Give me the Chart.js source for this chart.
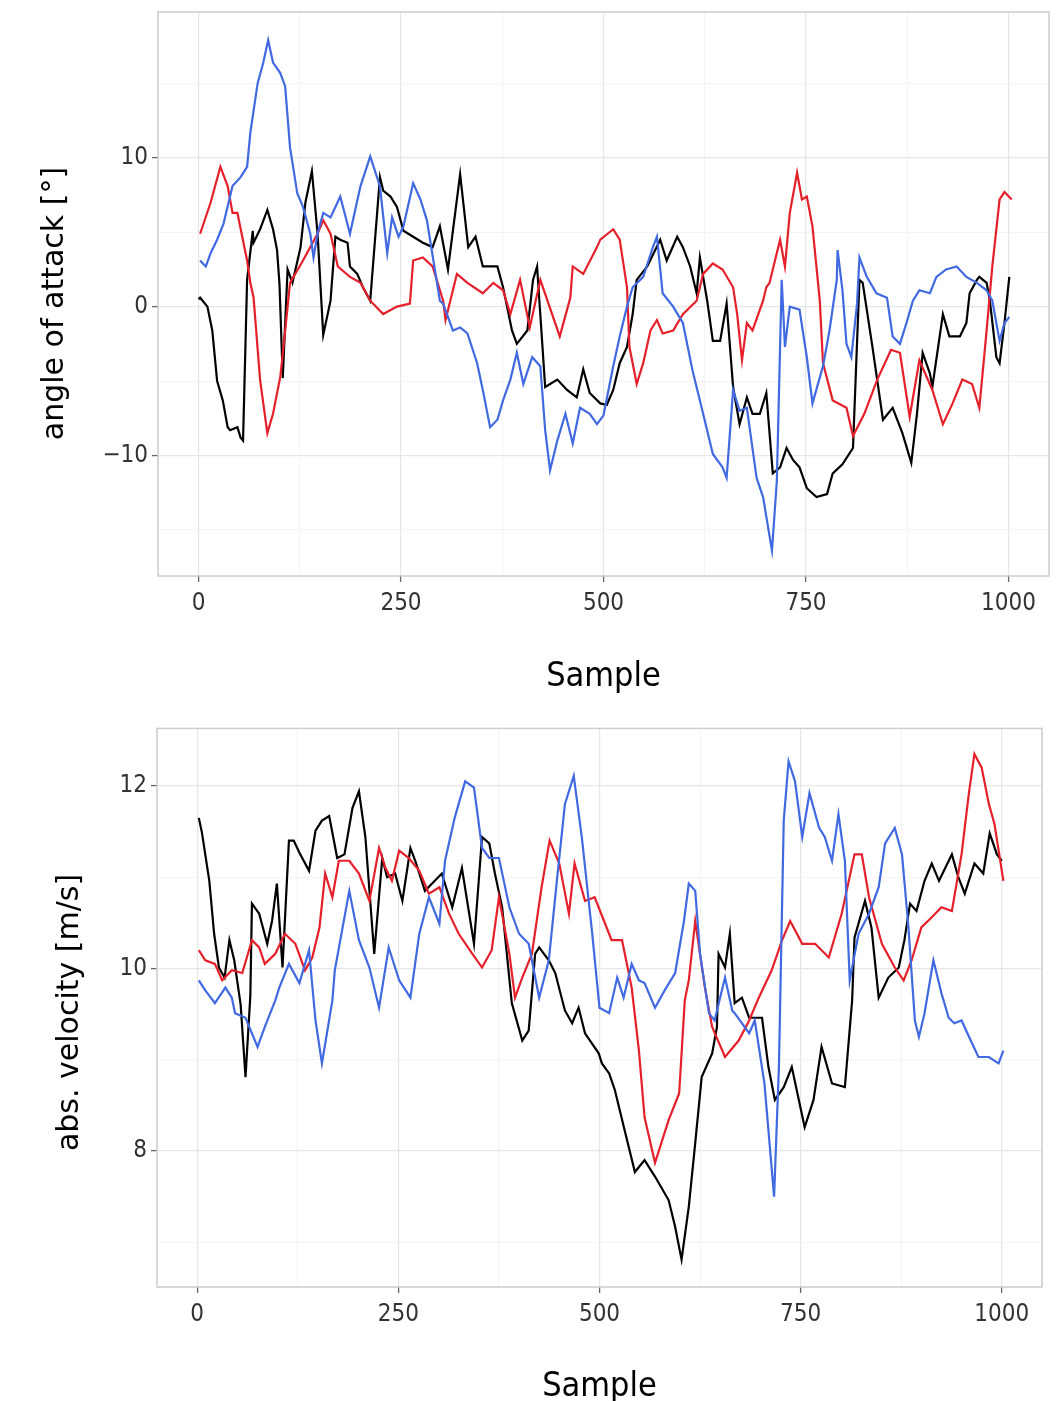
<!DOCTYPE html>
<html>
<head>
<meta charset="utf-8">
<script src="https://cdn.jsdelivr.net/npm/chart.js@4.4.1/dist/chart.umd.min.js"></script>
<style>
  body { margin: 0; background: #fff; }
  .panel { position: absolute; left: 0; }
</style>
</head>
<body>
<div class="panel" style="top:0"><canvas id="aoa" width="1059" height="710"></canvas></div>
<div class="panel" style="top:710px"><canvas id="vel" width="1059" height="691"></canvas></div>
<script>
// samples on x, shared by both panels
const sampleTicks = [0, 125, 250, 375, 500, 625, 750, 875, 1000];
const sampleLabels = [0, 250, 500, 750, 1000];

// angle of attack [deg], pairs of [sample, value]
const aoaTicks = [-15, -10, -5, 0, 5, 10, 15];
const aoaLabels = [-10, 0, 10];
const aoaBlack = [[0,0.5],[2,0.6],[11,0],[17,-1.6],[23,-5],[30,-6.3],[36,-8.1],[39,-8.3],[48,-8.1],[52,-8.8],[55,-9.0],[60,1.8],[67,5.1],[68,4.3],[76,5.2],[85,6.5],[92,5.2],[97,3.8],[100,1.5],[104,-4.8],[110,2.5],[116,1.6],[126,4],[132,7],[140,9.1],[147,4.9],[154,-1.9],[163,0.4],[169,4.7],[175,4.5],[184,4.3],[187,2.7],[196,2.2],[203,1.3],[212,0.4],[224,8.7],[228,7.8],[237,7.4],[245,6.7],[253,5.1],[265,4.7],[277,4.3],[289,4.0],[298,5.4],[308,2.5],[323,8.9],[333,4.0],[342,4.7],[351,2.7],[369,2.7],[376,1.3],[387,-1.6],[393,-2.5],[406,-1.6],[413,1.8],[418,2.7],[428,-5.4],[443,-4.9],[455,-5.6],[467,-6.1],[475,-4.2],[483,-5.8],[496,-6.5],[504,-6.6],[512,-5.6],[520,-3.8],[529,-2.7],[536,-0.5],[541,1.8],[554,2.7],[570,4.5],[578,3.1],[591,4.7],[598,4.0],[607,2.7],[615,0.9],[619,3.3],[628,0.4],[635,-2.3],[644,-2.3],[652,0.2],[660,-5.4],[668,-7.9],[677,-6.1],[684,-7.2],[693,-7.2],[701,-5.8],[709,-11.2],[718,-10.8],[726,-9.5],[734,-10.3],[742,-10.8],[751,-12.2],[763,-12.8],[776,-12.6],[783,-11.2],[795,-10.6],[808,-9.5],[816,1.8],[820,1.6],[832,-2.7],[845,-7.6],[857,-6.8],[869,-8.5],[880,-10.5],[887,-7.2],[894,-3.1],[903,-4.5],[906,-5.4],[919,-0.5],[927,-2.0],[940,-2.0],[948,-1.1],[952,0.9],[961,1.8],[964,2.0],[973,1.6],[977,0.4],[985,-3.4],[989,-3.8],[995,-1.1],[1001,2.0]];
const aoaRed = [[2,4.9],[15,7.0],[27,9.4],[36,8.1],[42,6.3],[48,6.3],[60,3.1],[64,1.6],[68,0.6],[76,-4.9],[85,-8.5],[92,-7.2],[101,-4.7],[105,-2.7],[113,1.6],[129,3.1],[147,4.9],[154,5.8],[163,4.9],[172,2.7],[187,2.0],[200,1.6],[212,0.4],[228,-0.5],[245,0],[261,0.2],[265,3.1],[277,3.3],[289,2.7],[302,0.4],[305,-0.9],[319,2.2],[332,1.6],[351,0.9],[364,1.6],[376,1.1],[385,-0.5],[397,1.8],[409,-1.4],[422,1.8],[446,-2.0],[459,0.6],[462,2.7],[475,2.2],[492,4.0],[496,4.5],[512,5.2],[520,4.5],[529,1.3],[532,-2.7],[541,-5.2],[549,-3.8],[558,-1.6],[566,-0.9],[573,-1.8],[586,-1.6],[598,-0.5],[615,0.4],[623,2.2],[635,2.9],[647,2.5],[660,1.3],[665,-0.5],[671,-3.6],[677,-1.1],[684,-1.6],[697,0.4],[701,1.3],[705,1.6],[709,2.5],[718,4.5],[724,2.7],[730,6.3],[739,9.0],[745,7.2],[751,7.4],[758,5.4],[767,0.4],[771,-3.8],[783,-6.3],[800,-6.8],[808,-8.7],[822,-7.2],[838,-4.9],[855,-2.9],[866,-3.1],[878,-7.4],[890,-3.6],[906,-5.6],[919,-7.9],[931,-6.5],[943,-4.9],[955,-5.2],[964,-6.8],[973,-1.6],[980,2.7],[989,7.2],[995,7.7],[1004,7.2]];
const aoaBlue = [[2,3.1],[9,2.7],[15,3.6],[23,4.5],[31,5.6],[42,8.1],[52,8.7],[60,9.4],[64,11.7],[73,15.0],[80,16.4],[86,17.9],[92,16.4],[101,15.7],[107,14.8],[113,10.7],[122,7.6],[129,6.7],[138,4.9],[142,3.3],[147,4.9],[154,6.3],[163,6.0],[175,7.4],[187,4.9],[200,8.1],[212,10.1],[224,8.1],[233,3.6],[239,6.0],[247,4.7],[253,5.4],[265,8.3],[274,7.2],[282,5.8],[290,3.1],[298,0.4],[302,0.2],[314,-1.6],[323,-1.4],[332,-1.8],[344,-3.8],[351,-5.6],[360,-8.1],[369,-7.6],[376,-6.3],[385,-4.9],[393,-3.1],[401,-5.2],[412,-3.4],[422,-4.0],[428,-8.3],[434,-11.0],[443,-9.0],[453,-7.2],[462,-9.2],[471,-6.8],[483,-7.2],[492,-7.9],[500,-7.3],[512,-4.0],[520,-2.0],[529,0],[536,1.3],[549,2.0],[561,4.0],[566,4.7],[573,0.9],[586,0],[598,-1.1],[610,-4.3],[623,-7.2],[635,-9.9],[647,-10.8],[652,-11.5],[660,-5.6],[668,-7.0],[677,-6.8],[689,-11.5],[697,-12.8],[708,-16.4],[714,-11.7],[720,1.8],[724,-2.7],[730,0],[742,-0.2],[751,-3.4],[758,-6.5],[771,-4.0],[779,-1.6],[788,1.8],[789,3.8],[795,1.1],[800,-2.5],[806,-3.4],[813,0.2],[816,3.3],[825,2.0],[837,0.9],[850,0.6],[857,-2.0],[866,-2.5],[874,-1.1],[882,0.4],[890,1.1],[903,0.9],[911,2.0],[923,2.5],[936,2.7],[948,2.0],[961,1.6],[973,1.1],[980,0.4],[989,-2.3],[995,-1.1],[1001,-0.7]];

// absolute velocity [m/s]
const velTicks = [7, 8, 9, 10, 11, 12];
const velLabels = [8, 10, 12];
const velBlack = [[2,11.65],[6,11.48],[15,10.96],[21,10.38],[27,10.01],[34,9.90],[40,10.31],[46,10.09],[54,9.6],[60,8.81],[66,9.7],[68,10.71],[77,10.60],[87,10.27],[93,10.52],[99,10.93],[106,10.01],[114,11.40],[120,11.40],[128,11.25],[139,11.07],[147,11.51],[155,11.62],[164,11.67],[174,11.21],[183,11.25],[193,11.76],[201,11.94],[209,11.44],[220,10.16],[230,11.21],[236,11.00],[246,11.04],[255,10.74],[265,11.32],[271,11.18],[283,10.85],[292,10.93],[304,11.04],[317,10.67],[329,11.10],[344,10.27],[354,11.44],[363,11.37],[370,11.04],[379,10.67],[391,9.62],[404,9.21],[412,9.32],[420,10.16],[425,10.23],[437,10.09],[445,9.95],[457,9.54],[466,9.40],[474,9.57],[482,9.29],[499,9.07],[503,8.96],[512,8.85],[519,8.67],[532,8.20],[544,7.77],[556,7.90],[569,7.72],[586,7.46],[594,7.17],[602,6.81],[611,7.39],[619,8.09],[627,8.81],[640,9.07],[646,9.36],[648,10.16],[656,10.01],[662,10.38],[668,9.62],[677,9.68],[686,9.46],[702,9.46],[710,8.92],[718,8.56],[729,8.70],[739,8.92],[755,8.26],[766,8.56],[776,9.14],[789,8.74],[805,8.70],[814,9.65],[817,10.34],[830,10.74],[838,10.45],[847,9.68],[859,9.90],[872,10.01],[879,10.31],[886,10.71],[894,10.63],[904,10.96],[913,11.15],[922,10.96],[938,11.25],[946,11.00],[954,10.82],[966,11.15],[977,11.04],[985,11.48],[994,11.25],[1000,11.18]];
const velRed = [[2,10.20],[10,10.09],[22,10.05],[31,9.87],[43,9.98],[56,9.95],[68,10.31],[77,10.23],[84,10.05],[97,10.16],[109,10.38],[122,10.27],[134,9.98],[143,10.12],[152,10.45],[159,11.04],[168,10.78],[176,11.18],[189,11.18],[201,11.04],[214,10.74],[226,11.32],[234,11.10],[242,10.96],[251,11.29],[263,11.21],[276,11.07],[288,10.82],[301,10.89],[313,10.60],[325,10.38],[342,10.16],[354,10.01],[366,10.20],[375,10.78],[388,10.16],[395,9.68],[404,9.90],[416,10.16],[428,10.89],[438,11.40],[450,11.15],[462,10.60],[469,11.15],[482,10.74],[494,10.78],[507,10.49],[515,10.31],[528,10.31],[540,9.79],[549,9.10],[556,8.37],[569,7.87],[586,8.34],[599,8.63],[606,9.65],[611,9.87],[619,10.52],[631,9.79],[640,9.36],[656,9.03],[673,9.21],[686,9.43],[698,9.68],[714,9.98],[727,10.31],[737,10.52],[752,10.27],[768,10.27],[785,10.12],[801,10.60],[817,11.25],[826,11.25],[835,10.78],[851,10.27],[867,10.01],[878,9.87],[888,10.09],[900,10.45],[913,10.56],[925,10.67],[938,10.63],[950,11.25],[959,11.91],[966,12.35],[975,12.20],[984,11.80],[991,11.58],[1002,10.96]];
const velBlue = [[2,9.87],[10,9.76],[22,9.62],[35,9.79],[43,9.68],[47,9.51],[60,9.46],[75,9.14],[84,9.36],[97,9.65],[102,9.79],[114,10.05],[127,9.84],[139,10.20],[147,9.43],[155,8.96],[168,9.65],[171,9.98],[189,10.85],[201,10.31],[214,10.01],[226,9.57],[238,10.23],[251,9.87],[265,9.68],[276,10.38],[288,10.78],[301,10.49],[308,11.18],[320,11.65],[333,12.05],[344,11.98],[354,11.32],[363,11.21],[375,11.21],[388,10.67],[400,10.38],[412,10.27],[425,9.68],[437,10.09],[447,10.96],[457,11.80],[468,12.11],[478,11.44],[491,10.38],[500,9.57],[512,9.51],[522,9.90],[530,9.68],[540,10.05],[549,9.87],[556,9.84],[569,9.57],[581,9.76],[594,9.95],[605,10.52],[611,10.93],[619,10.85],[625,10.16],[636,9.51],[643,9.43],[656,9.90],[665,9.54],[668,9.51],[686,9.29],[693,9.43],[705,8.74],[717,7.50],[723,8.92],[729,11.62],[735,12.27],[743,12.05],[752,11.44],[761,11.92],[773,11.54],[780,11.44],[789,11.18],[797,11.69],[805,11.18],[811,9.87],[822,10.38],[835,10.60],[847,10.89],[855,11.37],[867,11.54],[876,11.25],[884,10.45],[892,9.43],[897,9.25],[904,9.51],[915,10.09],[925,9.73],[934,9.46],[941,9.40],[950,9.43],[963,9.18],[971,9.03],[984,9.03],[996,8.96],[1002,9.10]];

const narrow = "'DejaVu Sans Condensed', 'Liberation Sans Narrow', sans-serif";
const wide = "'DejaVu Sans', sans-serif";

// grey frame around the plotting area, like the reference panels
const panelBorder = {
  id: 'panelBorder',
  afterDraw(chart) {
    const { ctx, chartArea: a } = chart;
    ctx.save();
    ctx.strokeStyle = '#cccccc';
    ctx.lineWidth = 1.5;
    ctx.strokeRect(a.left, a.top, a.right - a.left, a.bottom - a.top);
    ctx.restore();
  }
};

function line(points, color) {
  return {
    data: points.map(p => ({ x: p[0], y: p[1] })),
    borderColor: color,
    borderWidth: 2.2,
    pointRadius: 0,
    tension: 0
  };
}

function gridOpts(labels) {
  return {
    color: c => labels.includes(c.tick.value) ? '#e6e6e6' : '#f1f1f1',
    lineWidth: c => labels.includes(c.tick.value) ? 1.2 : 0.8,
    tickColor: c => labels.includes(c.tick.value) ? '#666' : 'rgba(0,0,0,0)',
    tickLength: 6,
    tickWidth: 1.3
  };
}

// minor ticks get a tiny font so they reserve no room at the panel edges
function tickFont(labels) {
  return c => labels.includes(c.tick && c.tick.value) ? { family: narrow, size: 24 } : { family: narrow, size: 1 };
}

function makeChart(id, sets, yTicks, yLabels, yMin, yMax, yTitle, opt) {
  return new Chart(document.getElementById(id), {
    type: 'line',
    data: { datasets: sets },
    plugins: [panelBorder],
    options: {
      responsive: false,
      animation: false,
      layout: { autoPadding: false, padding: { top: opt.top, right: opt.right, left: 0, bottom: 0 } },
      plugins: { legend: { display: false }, tooltip: { enabled: false } },
      scales: {
        x: {
          type: 'linear',
          min: -50,
          max: 1050,
          afterBuildTicks: s => { s.ticks = sampleTicks.map(v => ({ value: v })); },
          afterFit: s => { s.height = opt.xHeight; },
          border: { display: false },
          grid: gridOpts(sampleLabels),
          ticks: {
            autoSkip: false,
            maxRotation: 0,
            padding: 7,
            color: '#333',
            font: tickFont(sampleLabels),
            callback: v => sampleLabels.includes(v) ? String(v) : ''
          },
          title: {
            display: true,
            text: 'Sample',
            color: '#000',
            font: { family: narrow, size: 34, lineHeight: 0.8 },
            padding: { top: 0, bottom: opt.titlePad }
          }
        },
        y: {
          type: 'linear',
          min: yMin,
          max: yMax,
          afterBuildTicks: s => { s.ticks = yTicks.map(v => ({ value: v })); },
          afterFit: s => { s.width = opt.left; },
          border: { display: false },
          grid: gridOpts(yLabels),
          ticks: {
            autoSkip: false,
            padding: 4,
            color: '#333',
            font: tickFont(yLabels),
            callback: v => yLabels.includes(v) ? String(v).replace('-', '\u2212') : ''
          },
          title: {
            display: true,
            text: yTitle,
            color: '#000',
            font: { family: wide, size: 30 },
            padding: { top: opt.yTitlePad, bottom: 0 }
          }
        }
      }
    }
  });
}

// trailing spaces nudge the rotated titles down to where the reference has them
makeChart('aoa',
  [line(aoaBlue, '#4169e1'), line(aoaRed, '#e5202b'), line(aoaBlack, '#000000')],
  aoaTicks, aoaLabels, -18.1, 19.8, 'angle of attack [°]  ',
  { top: 12, right: 10, left: 158, xHeight: 134, titlePad: 19, yTitlePad: 37 });

makeChart('vel',
  [line(velBlue, '#4169e1'), line(velRed, '#e5202b'), line(velBlack, '#000000')],
  velTicks, velLabels, 6.51, 12.63, 'abs. velocity [m/s] ',
  { top: 17, right: 17, left: 157, xHeight: 114, titlePad: 0, yTitlePad: 52 });
</script>
</body>
</html>
